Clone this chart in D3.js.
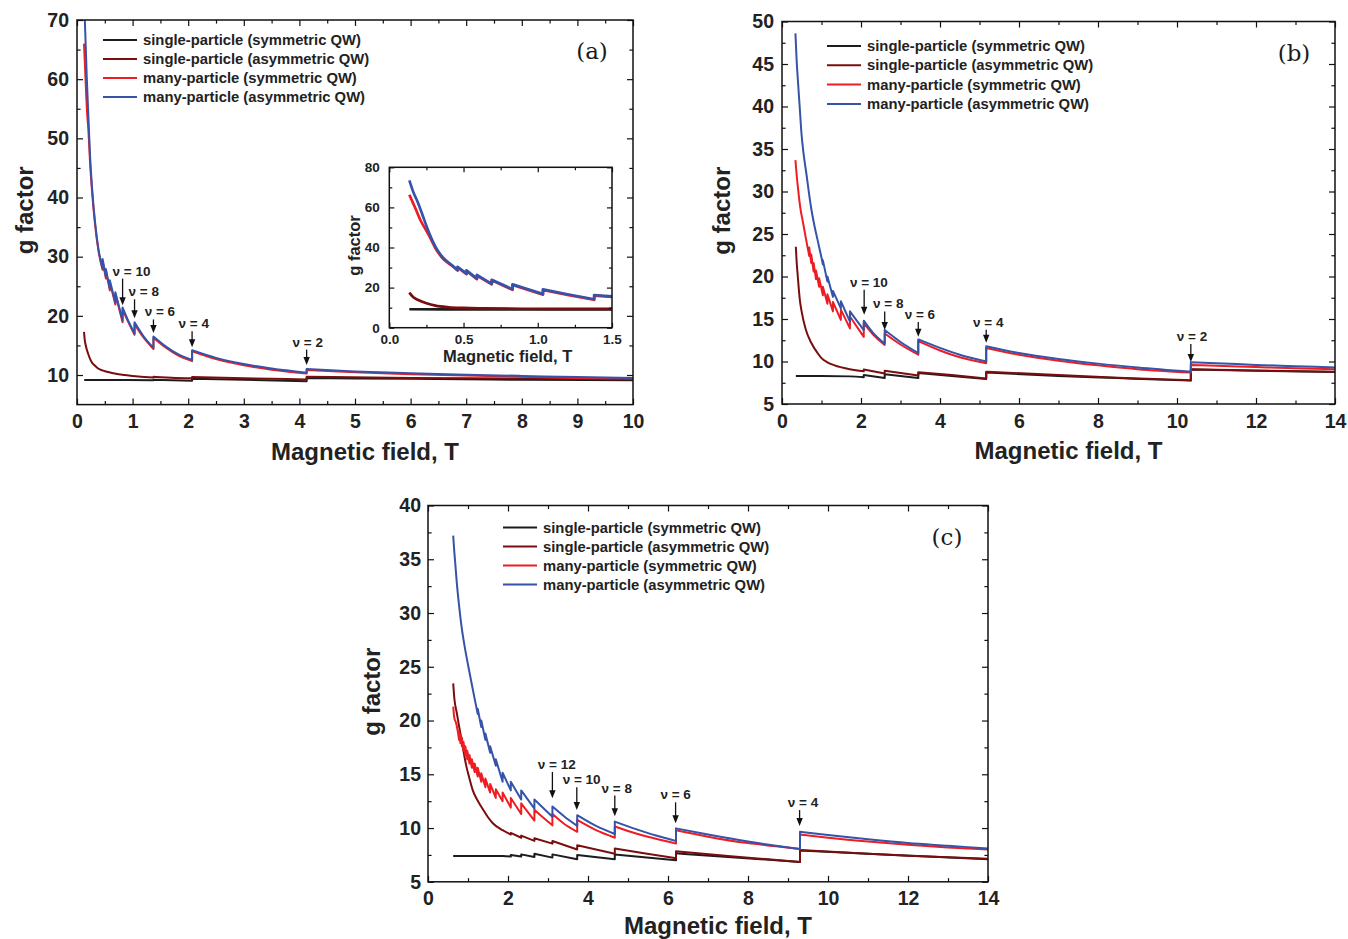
<!DOCTYPE html>
<html>
<head>
<meta charset="utf-8">
<script src="https://d3js.org/d3.v7.min.js"></script>
<style>
  body { margin: 0; background: #fff; }
  svg { display: block; font-family: "Liberation Sans", Arial, sans-serif; }
</style>
</head>
<body>
<svg id="chart" width="1348" height="939"></svg>
<script>
// Series (same order in every panel)
const seriesNames = [
  "single-particle (symmetric QW)",
  "single-particle (asymmetric QW)",
  "many-particle (symmetric QW)",
  "many-particle (asymmetric QW)"
];
const seriesColors = ["#1c1c1c", "#7a0e0e", "#ee1d23", "#3553a8"];

// ---- Panel (a): [B (T), g] ----
const aBlack = [[0.13,9.15],[0.8,9.15],[1.375,9.1],[1.375,9.2],[2.07,9.05],[2.07,9.35],[3,9.2],[4.13,8.95],[4.13,9.5],[6,9.35],[8,9.2],[10,9.1]];
const aDarkRed = [[0.126,17.3],[0.14,15.9],[0.16,14.9],[0.2,13.6],[0.26,12.25],[0.32,11.6],[0.38,11.1],[0.47,10.75],[0.56,10.5],[0.7,10.2],[0.86,10.0],[1.1,9.75],[1.375,9.6],[1.375,9.7],[1.7,9.55],[2.07,9.45],[2.07,9.65],[3,9.45],[4.13,9.25],[4.13,9.7],[6,9.5],[8,9.4],[10,9.25]];
const aRed = [[0.126,66.0],[0.14,63.0],[0.16,58.5],[0.18,54.5],[0.204,51.5],[0.234,46.0],[0.276,40.4],[0.324,35.5],[0.384,31.1],[0.46,27.8],[0.46,29.3],[0.52,26.3],[0.52,27.6],[0.59,24.3],[0.59,25.7],[0.69,21.9],[0.69,23.7],[0.82,18.9],[0.82,21.1],[0.93,18.8],[1.035,16.8],[1.035,18.6],[1.2,16.3],[1.375,14.4],[1.375,16.3],[1.6,14.6],[1.8,13.4],[2.07,12.35],[2.07,14.0],[2.5,12.7],[3.0,11.65],[3.5,10.9],[4.13,10.25],[4.13,10.85],[5,10.45],[6,10.15],[7,9.9],[8,9.7],[9,9.5],[10,9.4]];
const aBlue = [[0.126,74.0],[0.15,67.5],[0.175,60.5],[0.204,53.9],[0.234,47.2],[0.276,41.0],[0.324,35.9],[0.384,31.4],[0.46,28.0],[0.46,29.6],[0.52,26.6],[0.52,27.9],[0.59,24.6],[0.59,26.0],[0.69,22.2],[0.69,24.0],[0.82,19.2],[0.82,21.4],[0.93,19.0],[1.035,17.0],[1.035,18.9],[1.2,16.5],[1.375,14.6],[1.375,16.5],[1.6,14.8],[1.8,13.6],[2.07,12.55],[2.07,14.2],[2.5,12.9],[3.0,11.85],[3.5,11.1],[4.13,10.4],[4.13,11.0],[5,10.6],[6,10.3],[7,10.05],[8,9.85],[9,9.65],[10,9.5]];
// label, arrow B, arrow tip g, label B, label baseline g
const aNotes = [["ν = 10",0.82,21.8,0.98,26.8],["ν = 8",1.035,19.6,1.2,23.3],["ν = 6",1.375,17.1,1.49,19.9],["ν = 4",2.07,14.7,2.1,17.9],["ν = 2",4.13,11.7,4.15,14.8]];
const aXTicks = [0,1,2,3,4,5,6,7,8,9,10];
const aXMinor = [0.5,1.5,2.5,3.5,4.5,5.5,6.5,7.5,8.5,9.5];
const aYTicks = [10,20,30,40,50,60,70];
const aYMinor = [15,25,35,45,55,65];

// ---- Inset of (a) ----
const inBlack = [[0.135,9.2],[0.6,9.15],[1.0,9.1],[1.5,9.1]];
const inDarkRed = [[0.135,17.5],[0.16,15.3],[0.195,13.8],[0.25,12.2],[0.31,11.0],[0.4,10.2],[0.5,9.85],[0.64,9.65],[0.9,9.45],[1.2,9.35],[1.5,9.35]];
const inRed = [[0.135,66.3],[0.15,63.8],[0.18,58.8],[0.21,53.6],[0.25,48.3],[0.28,44.2],[0.308,40.0],[0.336,36.8],[0.364,34.2],[0.42,31.0],[0.46,28.5],[0.46,30.1],[0.52,26.7],[0.52,28.3],[0.59,24.2],[0.59,26.0],[0.69,21.6],[0.69,23.6],[0.83,18.9],[0.83,21.3],[0.93,19.0],[1.035,16.5],[1.035,18.8],[1.2,16.4],[1.38,13.9],[1.38,16.0],[1.5,15.3]];
const inBlue = [[0.135,73.5],[0.16,68.0],[0.195,62.0],[0.225,56.0],[0.252,50.4],[0.28,45.2],[0.308,40.8],[0.336,37.4],[0.364,34.8],[0.42,31.3],[0.46,28.8],[0.46,30.4],[0.52,27.0],[0.52,28.6],[0.59,24.5],[0.59,26.3],[0.69,21.9],[0.69,23.9],[0.83,19.2],[0.83,21.6],[0.93,19.3],[1.035,16.8],[1.035,19.1],[1.2,16.7],[1.38,14.2],[1.38,16.3],[1.5,15.6]];
const inXTicks = [0,0.5,1,1.5];
const inXMinor = [0.25,0.75,1.25];
const inYTicks = [0,20,40,60,80];
const inYMinor = [10,30,50,70];

// ---- Panel (b) ----
const bBlack = [[0.35,8.3],[1.0,8.3],[1.72,8.25],[2.07,8.15],[2.07,8.4],[2.6,8.05],[2.6,8.5],[3.45,8.05],[3.45,8.65],[4.3,8.3],[5.17,7.95],[5.17,8.7],[7,8.3],[8.5,8.05],[10.35,7.75],[10.35,9.05],[12,8.9],[14,8.75]];
const bDarkRed = [[0.35,23.5],[0.37,21.8],[0.4,20.0],[0.45,17.3],[0.5,15.8],[0.6,13.8],[0.74,12.2],[0.9,11.0],[1.0,10.4],[1.15,9.9],[1.33,9.55],[1.72,9.1],[2.07,8.85],[2.07,9.05],[2.6,8.6],[2.6,8.9],[3.45,8.35],[3.45,8.75],[4.3,8.4],[5.17,8.0],[5.17,8.8],[7,8.4],[8.5,8.1],[10.35,7.8],[10.35,9.1],[12,8.95],[14,8.8]];
const bRed = [[0.34,33.7],[0.37,32.0],[0.405,30.4],[0.46,28.2],[0.53,26.4],[0.6,24.6],[0.69,22.4],[0.69,23.4],[0.74,21.6],[0.74,22.6],[0.80,20.6],[0.80,21.6],[0.86,19.7],[0.86,20.7],[0.94,18.8],[0.94,19.8],[1.035,17.8],[1.035,18.8],[1.15,16.8],[1.15,17.9],[1.29,15.9],[1.29,17.0],[1.49,14.9],[1.49,16.1],[1.72,13.9],[1.72,15.3],[2.07,12.9],[2.07,14.5],[2.3,13.2],[2.6,11.95],[2.6,13.3],[3.0,12.0],[3.45,10.8],[3.45,12.4],[4.0,11.3],[4.5,10.5],[5.17,9.8],[5.17,11.6],[6,10.8],[7,10.1],[8,9.55],[9,9.1],[10.35,8.7],[10.35,9.6],[11,9.5],[12,9.35],[13,9.2],[14,9.1]];
const bBlue = [[0.34,48.6],[0.37,45.5],[0.405,42.9],[0.45,39.8],[0.49,37.0],[0.55,34.3],[0.62,32.0],[0.68,29.9],[0.74,28.0],[0.82,26.0],[0.91,24.1],[1.0,22.2],[1.035,21.4],[1.035,21.9],[1.15,19.4],[1.15,20.0],[1.29,17.6],[1.29,18.3],[1.49,16.25],[1.49,17.1],[1.72,14.7],[1.72,15.9],[2.07,13.7],[2.07,14.8],[2.3,13.4],[2.6,12.1],[2.6,13.7],[3.0,12.3],[3.45,11.0],[3.45,12.6],[4.0,11.6],[4.5,10.8],[5.17,10.0],[5.17,11.8],[6,11.0],[7,10.3],[8,9.75],[9,9.3],[10.35,8.8],[10.35,9.9],[11,9.8],[12,9.6],[13,9.45],[14,9.3]];
const bNotes = [["ν = 10",2.08,15.5,2.2,18.8],["ν = 8",2.6,13.7,2.69,16.25],["ν = 6",3.45,12.9,3.49,15.0],["ν = 4",5.17,12.2,5.22,14.1],["ν = 2",10.35,9.95,10.38,12.4]];
const bXTicks = [0,2,4,6,8,10,12,14];
const bXMinor = [1,3,5,7,9,11,13];
const bYTicks = [5,10,15,20,25,30,35,40,45,50];
const bYMinor = [7.5,12.5,17.5,22.5,27.5,32.5,37.5,42.5,47.5];

// ---- Panel (c) ----
const cBlack = [[0.63,7.4],[1.2,7.4],[1.865,7.4],[2.07,7.35],[2.07,7.5],[2.33,7.35],[2.33,7.55],[2.66,7.3],[2.66,7.6],[3.11,7.25],[3.11,7.55],[3.73,7.1],[3.73,7.5],[4.67,7.1],[4.67,7.55],[6.2,7.0],[6.2,7.65],[7.5,7.3],[9.3,6.85],[9.3,7.9],[11,7.6],[12.5,7.35],[14,7.1]];
const cDarkRed = [[0.63,23.45],[0.66,22.0],[0.72,20.7],[0.78,19.4],[0.84,18.2],[0.9,16.9],[0.95,15.9],[1.03,14.7],[1.12,13.5],[1.25,12.5],[1.38,11.7],[1.5,11.0],[1.62,10.45],[1.865,9.8],[2.07,9.4],[2.07,9.55],[2.33,9.1],[2.33,9.3],[2.66,8.8],[2.66,9.05],[3.11,8.55],[3.11,8.8],[3.73,8.0],[3.73,8.4],[4.67,7.6],[4.67,8.1],[5.4,7.65],[6.2,7.2],[6.2,7.85],[7.5,7.4],[8.5,7.1],[9.3,6.85],[9.3,7.95],[11,7.6],[12.5,7.35],[14,7.15]];
const cRed = [[0.63,21.3],[0.66,20.2],[0.7,19.8],[0.74,19.1],[0.777,18.2],[0.777,19.0],[0.811,17.9],[0.811,18.7],[0.848,17.6],[0.848,18.4],[0.888,17.2],[0.888,18.0],[0.933,16.8],[0.933,17.6],[0.982,16.4],[0.982,17.2],[1.036,16.0],[1.036,16.8],[1.097,15.6],[1.097,16.4],[1.166,15.2],[1.166,16.0],[1.243,14.8],[1.243,15.6],[1.332,14.3],[1.332,15.1],[1.435,13.8],[1.435,14.6],[1.554,13.3],[1.554,14.1],[1.695,12.8],[1.695,13.6],[1.865,12.5],[1.865,13.3],[2.07,11.9],[2.07,12.8],[2.33,11.3],[2.33,12.3],[2.66,10.7],[2.66,11.7],[2.9,10.9],[3.11,10.25],[3.11,11.3],[3.4,10.4],[3.73,9.65],[3.73,10.75],[4.2,9.8],[4.67,9.1],[4.67,10.15],[5.2,9.5],[5.7,9.0],[6.2,8.55],[6.2,9.8],[7,9.2],[8,8.6],[8.7,8.3],[9.3,8.05],[9.3,9.4],[10,9.1],[11,8.75],[12,8.45],[13,8.2],[14,8.0]];
const cBlue = [[0.63,37.2],[0.66,35.6],[0.68,34.7],[0.72,32.8],[0.78,30.6],[0.84,28.7],[0.92,26.8],[1.01,25.0],[1.12,22.9],[1.243,20.6],[1.243,21.1],[1.332,19.4],[1.332,20.0],[1.435,18.2],[1.435,18.8],[1.554,17.0],[1.554,17.6],[1.695,15.8],[1.695,16.4],[1.865,14.3],[1.865,15.15],[2.07,13.5],[2.07,14.3],[2.33,12.65],[2.33,13.5],[2.66,11.8],[2.66,12.65],[2.9,11.8],[3.11,11.05],[3.11,12.0],[3.4,11.1],[3.73,10.2],[3.73,11.2],[4.2,10.2],[4.67,9.45],[4.67,10.6],[5.2,9.9],[5.7,9.3],[6.2,8.8],[6.2,9.97],[7,9.4],[8,8.75],[8.7,8.35],[9.3,8.05],[9.3,9.65],[10,9.35],[11,8.95],[12,8.6],[13,8.35],[14,8.1]];
const cNotes = [["ν = 12",3.11,12.76,3.22,15.5],["ν = 10",3.72,11.67,3.84,14.07],["ν = 8",4.67,11.1,4.72,13.3],["ν = 6",6.19,10.44,6.19,12.67],["ν = 4",9.29,10.2,9.375,11.95]];
const cXTicks = [0,2,4,6,8,10,12,14];
const cXMinor = [1,3,5,7,9,11,13];
const cYTicks = [5,10,15,20,25,30,35,40];
const cYMinor = [7.5,12.5,17.5,22.5,27.5,32.5,37.5];

const svg = d3.select("#chart");
const FONT = "'Liberation Sans', Arial, sans-serif";

// monotone curve inside each smooth piece, vertical jumps where B repeats
function linePath(points, x, y) {
  const line = d3.line().x(d => x(d[0])).y(d => y(d[1])).curve(d3.curveMonotoneX);
  const segs = [];
  let cur = [points[0]];
  for (let i = 1; i < points.length; i++) {
    if (points[i][0] === points[i - 1][0]) { segs.push(cur); cur = [points[i]]; }
    else cur.push(points[i]);
  }
  segs.push(cur);
  return segs.map((s, i) => {
    const p = line(s).replace(/Z$/, "");
    return i ? p.replace(/^M/, "L") : p;
  }).join("");
}

function addAxis(g, axis, transform, fs) {
  const a = g.append("g").attr("transform", transform).call(axis)
    .attr("font-family", FONT).attr("font-size", fs);
  a.select(".domain").remove();
  a.selectAll("line").attr("stroke", "#111").attr("stroke-width", 1.2);
  a.selectAll("text").attr("font-weight", "bold").attr("fill", "#222");
}

function drawPanel(p) {
  const g = svg.append("g");
  const x = d3.scaleLinear().domain(p.xDomain).range([p.left, p.right]);
  const y = d3.scaleLinear().domain(p.yDomain).range([p.bottom, p.top]);
  const w = p.right - p.left, h = p.bottom - p.top;

  g.append("rect").attr("x", p.left).attr("y", p.top).attr("width", w).attr("height", h).attr("fill", "#fff");

  svg.append("clipPath").attr("id", "clip-" + p.id)
    .append("rect").attr("x", p.left).attr("y", p.top).attr("width", w).attr("height", h);

  const lines = g.append("g").attr("clip-path", `url(#clip-${p.id})`);
  p.series.forEach((s, i) => {
    lines.append("path").attr("d", linePath(s, x, y))
      .attr("fill", "none").attr("stroke", seriesColors[i])
      .attr("stroke-width", p.lw).attr("stroke-linejoin", "round");
  });

  // ticks on all four sides, pointing inward
  const fs = p.tickFont;
  addAxis(g, d3.axisBottom(x).tickValues(p.xTicks).tickFormat(p.xFmt).tickSize(-p.tick).tickPadding(p.xPad), `translate(0,${p.bottom})`, fs);
  addAxis(g, d3.axisBottom(x).tickValues(p.xMinor).tickFormat("").tickSize(-p.tick * 0.6), `translate(0,${p.bottom})`, fs);
  addAxis(g, d3.axisTop(x).tickValues(p.xTicks).tickFormat("").tickSize(-p.tick), `translate(0,${p.top})`, fs);
  addAxis(g, d3.axisTop(x).tickValues(p.xMinor).tickFormat("").tickSize(-p.tick * 0.6), `translate(0,${p.top})`, fs);
  addAxis(g, d3.axisLeft(y).tickValues(p.yTicks).tickFormat(d3.format("d")).tickSize(-p.tick).tickPadding(p.yPad), `translate(${p.left},0)`, fs);
  addAxis(g, d3.axisLeft(y).tickValues(p.yMinor).tickFormat("").tickSize(-p.tick * 0.6), `translate(${p.left},0)`, fs);
  addAxis(g, d3.axisRight(y).tickValues(p.yTicks).tickFormat("").tickSize(-p.tick), `translate(${p.right},0)`, fs);
  addAxis(g, d3.axisRight(y).tickValues(p.yMinor).tickFormat("").tickSize(-p.tick * 0.6), `translate(${p.right},0)`, fs);

  g.append("rect").attr("x", p.left).attr("y", p.top).attr("width", w).attr("height", h)
    .attr("fill", "none").attr("stroke", "#111").attr("stroke-width", 1.5);

  // axis titles
  g.append("text").attr("x", (p.left + p.right) / 2 + p.xTitleDx).attr("y", p.bottom + p.xTitleDy)
    .attr("text-anchor", "middle").attr("font-family", FONT).attr("font-weight", "bold")
    .attr("font-size", p.titleFont).attr("fill", "#222").text("Magnetic field, T");
  g.append("text").attr("transform", `translate(${p.left - p.yTitleDx},${(p.top + p.bottom) / 2 - 2}) rotate(-90)`)
    .attr("text-anchor", "middle").attr("dy", "0.35em").attr("font-family", FONT).attr("font-weight", "bold")
    .attr("font-size", p.titleFont).attr("fill", "#222").text("g factor");

  // legend
  if (p.legend) {
    const lg = g.append("g");
    seriesNames.forEach((name, i) => {
      const ly = p.legend.y + i * p.legend.dy;
      lg.append("line").attr("x1", p.legend.x).attr("x2", p.legend.x + 34).attr("y1", ly).attr("y2", ly)
        .attr("stroke", seriesColors[i]).attr("stroke-width", 2);
      lg.append("text").attr("x", p.legend.x + 40).attr("y", ly).attr("dy", "0.35em")
        .attr("font-family", FONT).attr("font-weight", "bold").attr("font-size", 14.8)
        .attr("fill", "#222").text(name);
    });
  }

  // filling-factor arrows
  (p.notes || []).forEach(n => {
    const [label, b, tip, lb, lgv] = n;
    const ax = x(b), base = y(lgv), ty = y(tip);
    g.append("text").attr("x", x(lb)).attr("y", base).attr("text-anchor", "middle")
      .attr("font-family", FONT).attr("font-weight", "bold").attr("font-size", 13.5)
      .attr("fill", "#222").text(label);
    g.append("line").attr("x1", ax).attr("x2", ax).attr("y1", base + 3).attr("y2", ty - 5)
      .attr("stroke", "#111").attr("stroke-width", 1.3);
    g.append("path").attr("d", `M${ax - 3.2},${ty - 8}L${ax + 3.2},${ty - 8}L${ax},${ty}Z`).attr("fill", "#111");
  });

  if (p.label) {
    g.append("text").attr("x", p.right - 41).attr("y", p.top + 39).attr("text-anchor", "middle")
      .attr("font-family", "'DejaVu Serif', 'Liberation Serif', serif").attr("font-size", 23)
      .attr("fill", "#1a1a1a").text(p.label);
  }
}

drawPanel({
  id: "a", left: 77, right: 633, top: 20, bottom: 404.6, xDomain: [0, 10], yDomain: [5, 70],
  xTicks: aXTicks, xMinor: aXMinor, yTicks: aYTicks, yMinor: aYMinor, xFmt: d3.format("d"),
  series: [aBlack, aDarkRed, aRed, aBlue], notes: aNotes, lw: 2, tick: 6, tickFont: 19.5,
  xPad: 10, yPad: 8, titleFont: 24, xTitleDx: 10, xTitleDy: 55, yTitleDx: 52,
  legend: { x: 103, y: 40, dy: 19 }, label: "(a)"
});

drawPanel({
  id: "in", left: 389.3, right: 612, top: 167.3, bottom: 327.7, xDomain: [0, 1.5], yDomain: [0, 80],
  xTicks: inXTicks, xMinor: inXMinor, yTicks: inYTicks, yMinor: inYMinor, xFmt: d3.format(".1f"),
  series: [inBlack, inDarkRed, inRed, inBlue], lw: 2.7, tick: 5, tickFont: 13.5,
  xPad: 7, yPad: 9.5, titleFont: 16.5, xTitleDx: 7, xTitleDy: 34, yTitleDx: 35
});

drawPanel({
  id: "b", left: 782, right: 1335, top: 21.5, bottom: 404, xDomain: [0, 14], yDomain: [5, 50],
  xTicks: bXTicks, xMinor: bXMinor, yTicks: bYTicks, yMinor: bYMinor, xFmt: d3.format("d"),
  series: [bBlack, bDarkRed, bRed, bBlue], notes: bNotes, lw: 2, tick: 6, tickFont: 19.5,
  xPad: 10, yPad: 8, titleFont: 24, xTitleDx: 10, xTitleDy: 55, yTitleDx: 60,
  legend: { x: 827, y: 46, dy: 19.3 }, label: "(b)"
});

drawPanel({
  id: "c", left: 428, right: 988, top: 505.5, bottom: 881.8, xDomain: [0, 14], yDomain: [5, 40],
  xTicks: cXTicks, xMinor: cXMinor, yTicks: cYTicks, yMinor: cYMinor, xFmt: d3.format("d"),
  series: [cBlack, cDarkRed, cRed, cBlue], notes: cNotes, lw: 2, tick: 6, tickFont: 19.5,
  xPad: 9.5, yPad: 7, titleFont: 24, xTitleDx: 10, xTitleDy: 52, yTitleDx: 56,
  legend: { x: 503, y: 527.5, dy: 19 }, label: "(c)"
});
</script>
</body>
</html>
